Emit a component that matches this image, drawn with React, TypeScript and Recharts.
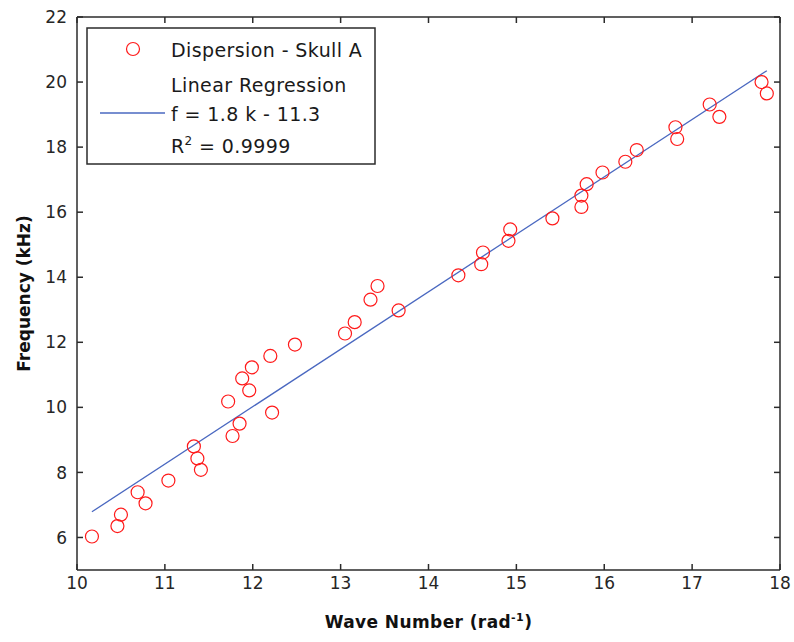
import React from 'react';
import { ComposedChart, XAxis, YAxis, Scatter, Line } from 'recharts';

const waveNumber = [10.17, 10.46, 10.5, 10.69, 10.78, 11.04, 11.33, 11.37, 11.41, 11.72, 11.77, 11.85, 11.88, 11.96, 11.99, 12.2, 12.22, 12.48, 13.05, 13.16, 13.34, 13.42, 13.66, 14.34, 14.6, 14.62, 14.91, 14.93, 15.41, 15.74, 15.74, 15.8, 15.98, 16.24, 16.37, 16.83, 16.81, 17.2, 17.31, 17.79, 17.85];
const frequency = [6.03, 6.35, 6.7, 7.39, 7.05, 7.75, 8.8, 8.43, 8.08, 10.18, 9.12, 9.5, 10.89, 10.52, 11.23, 11.58, 9.84, 11.93, 12.27, 12.62, 13.31, 13.73, 12.98, 14.06, 14.4, 14.76, 15.12, 15.47, 15.81, 16.16, 16.51, 16.86, 17.22, 17.55, 17.91, 18.25, 18.61, 19.31, 18.93, 20.0, 19.65];

const fitWaveNumber = [10.17, 17.85];
const fitFrequency = [6.79, 20.35];

const xTicks = [10, 11, 12, 13, 14, 15, 16, 17, 18];
const yTicks = [6, 8, 10, 12, 14, 16, 18, 20, 22];

const scatterLabel = 'Dispersion - Skull A';
const fitLabel1 = 'Linear Regression';
const fitLabel2 = 'f = 1.8 k - 11.3';
const fitLabel3a = 'R';
const fitLabel3b = '2';
const fitLabel3c = ' = 0.9999';

const scatterData = waveNumber.map((k, i) => ({ k, f: frequency[i] }));
const fitData = fitWaveNumber.map((k, i) => ({ k, fit: fitFrequency[i] }));

const AXIS = '#2b2b2b';
const RED = '#ff1a1a';
const BLUE = '#4a68c0';
const TICK_LEN = 6;

const Circle = (props: any) => (
  <circle cx={props.cx} cy={props.cy} r={6.5} fill="none" stroke={RED} strokeWidth={1.2} />
);

const BottomTick = (props: any) => {
  const { x, y, payload } = props;
  const axisY = y - 6;
  return (
    <g>
      <line x1={x} x2={x} y1={axisY} y2={axisY - TICK_LEN} stroke={AXIS} strokeWidth={1.5} />
      <text x={x} y={y} dy="0.78em" textAnchor="middle" fontFamily="DejaVu Sans" fontSize={17} fill="#262626">
        {payload.value}
      </text>
    </g>
  );
};

const LeftTick = (props: any) => {
  const { x, y, payload } = props;
  const axisX = x + 10;
  return (
    <g>
      <line x1={axisX} x2={axisX + TICK_LEN} y1={y} y2={y} stroke={AXIS} strokeWidth={1.5} />
      <text x={x} y={y} dy="0.36em" textAnchor="end" fontFamily="DejaVu Sans" fontSize={17} fill="#262626">
        {payload.value}
      </text>
    </g>
  );
};

const TopTick = (props: any) => {
  const { x, y } = props;
  return <line x1={x} x2={x} y1={y} y2={y + TICK_LEN} stroke={AXIS} strokeWidth={1.5} />;
};

const RightTick = (props: any) => {
  const { x, y } = props;
  return <line x1={x} x2={x - TICK_LEN} y1={y} y2={y} stroke={AXIS} strokeWidth={1.5} />;
};

const XLabel = (props: any) => {
  const vb = props.viewBox;
  return (
    <text x={vb.x + vb.width / 2} y={vb.y + 58} textAnchor="middle" fontFamily="DejaVu Sans" fontWeight="bold" fontSize={17} letterSpacing={0.4} fill="#111">
      Wave Number (rad<tspan dy={-7} fontSize={11}>-1</tspan><tspan dy={7}>)</tspan>
    </text>
  );
};

const YLabel = (props: any) => {
  const vb = props.viewBox;
  const cy = vb.y + vb.height / 2;
  return (
    <text x={30} y={cy} transform={`rotate(-90, 30, ${cy})`} textAnchor="middle" fontFamily="DejaVu Sans" fontWeight="bold" fontSize={17} fill="#111">
      Frequency (kHz)
    </text>
  );
};

export default function App() {
  const legendFont = { fontFamily: 'DejaVu Sans', fontSize: 19, fill: '#1a1a1a', letterSpacing: 0.4 };
  return (
    <div style={{ position: 'absolute', left: 0, top: 0, width: 794, height: 642, background: '#fff' }}>
      <ComposedChart width={794} height={642} margin={{ top: 16, right: 13, bottom: 0, left: 0 }}>
        <XAxis
          dataKey="k"
          type="number"
          domain={[10, 18]}
          ticks={xTicks}
          allowDataOverflow
          height={72}
          tickSize={0}
          tickMargin={6}
          tick={<BottomTick />}
          tickLine={false}
          axisLine={{ stroke: AXIS, strokeWidth: 1.5 }}
          label={<XLabel />}
        />
        <XAxis
          xAxisId="top"
          orientation="top"
          dataKey="k"
          type="number"
          domain={[10, 18]}
          ticks={xTicks}
          allowDataOverflow
          height={1}
          tickSize={0}
          tickMargin={0}
          tick={<TopTick />}
          tickLine={false}
          axisLine={{ stroke: AXIS, strokeWidth: 1.5 }}
        />
        <YAxis
          type="number"
          domain={[5, 22]}
          ticks={yTicks}
          allowDataOverflow
          width={77}
          tickSize={0}
          tickMargin={10}
          tick={<LeftTick />}
          tickLine={false}
          axisLine={{ stroke: AXIS, strokeWidth: 1.5 }}
          label={<YLabel />}
        />
        <YAxis
          yAxisId="right"
          orientation="right"
          type="number"
          domain={[5, 22]}
          ticks={yTicks}
          allowDataOverflow
          width={1}
          tickSize={0}
          tickMargin={0}
          tick={<RightTick />}
          tickLine={false}
          axisLine={{ stroke: AXIS, strokeWidth: 1.5 }}
        />
        <Line data={fitData} dataKey="fit" stroke={BLUE} strokeWidth={1.3} dot={false} isAnimationActive={false} />
        <Scatter data={scatterData} dataKey="f" shape={<Circle />} isAnimationActive={false} />
      </ComposedChart>
      <svg width={794} height={642} style={{ position: 'absolute', left: 0, top: 0, pointerEvents: 'none' }}>
        <rect x={87} y={28} width={288} height={136} fill="#fff" stroke={AXIS} strokeWidth={1.5} />
        <circle cx={133} cy={49} r={6.5} fill="none" stroke={RED} strokeWidth={1.2} />
        <text x={171} y={57} {...legendFont}>{scatterLabel}</text>
        <text x={171} y={92} {...legendFont}>{fitLabel1}</text>
        <line x1={100} y1={113} x2={165} y2={113} stroke={BLUE} strokeWidth={1.3} />
        <text x={171} y={121} {...legendFont}>{fitLabel2}</text>
        <text x={171} y={153} {...legendFont}>
          {fitLabel3a}<tspan dy={-8} fontSize={12}>{fitLabel3b}</tspan><tspan dy={8}>{fitLabel3c}</tspan>
        </text>
      </svg>
    </div>
  );
}
